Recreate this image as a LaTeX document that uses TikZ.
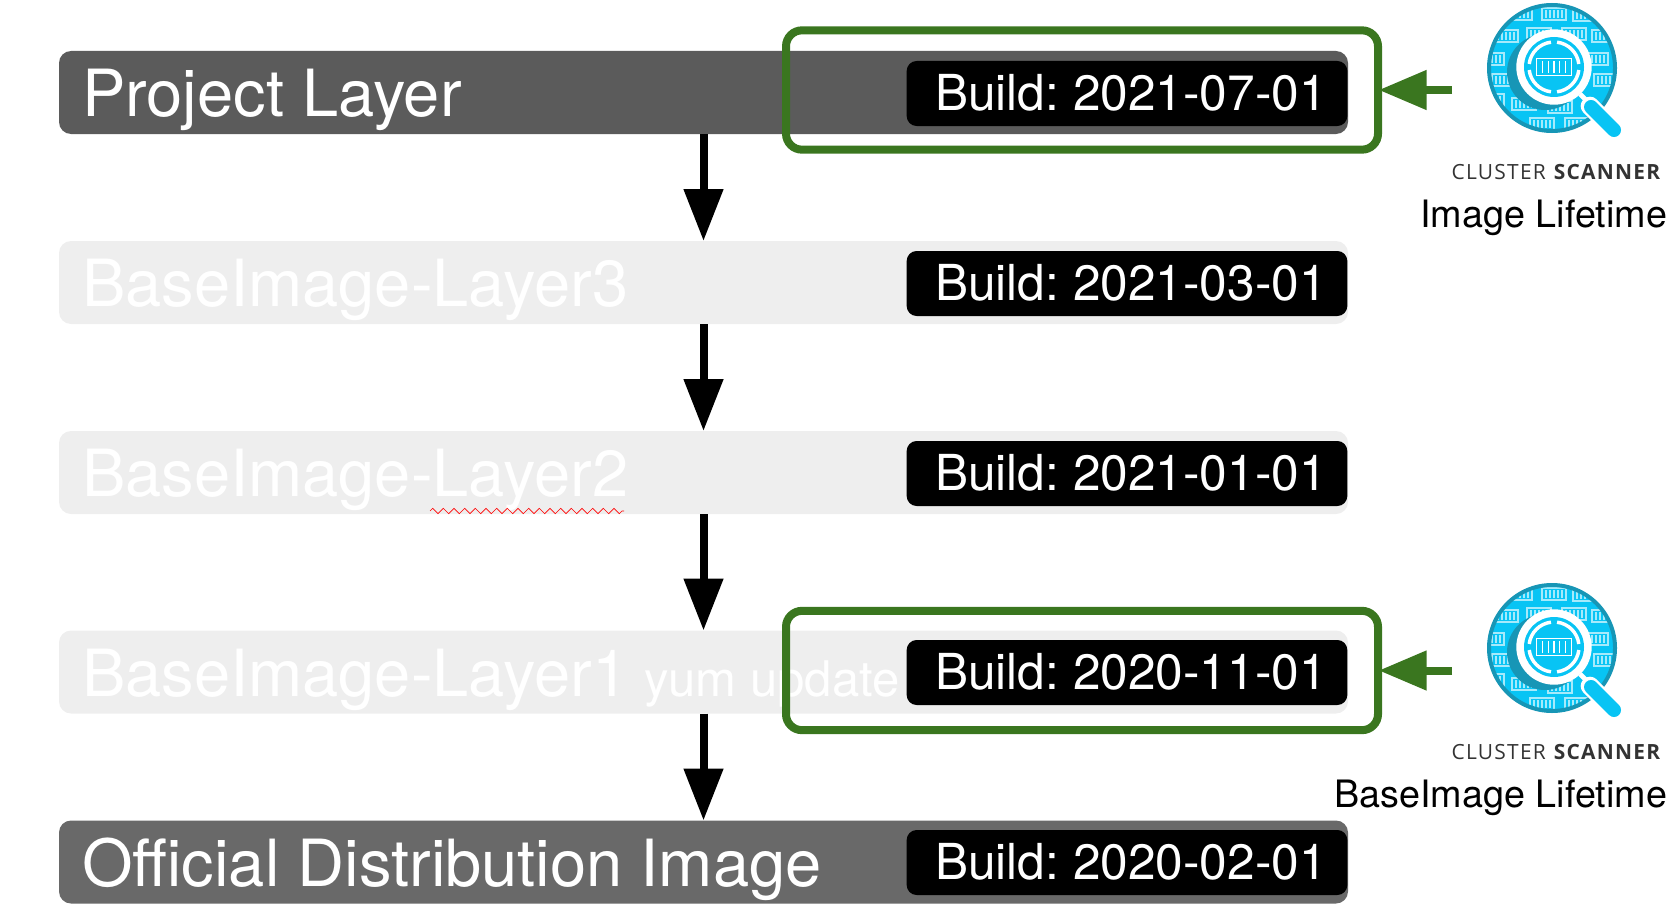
\documentclass[tikz,border=0pt]{standalone}
\usepackage{fontspec}
\setmainfont{TeX Gyre Heros}
\newfontfamily\scannerfont[LetterSpace=6]{Open Sans}
\usetikzlibrary{arrows.meta,decorations.pathmorphing}
\frenchspacing

\definecolor{barDark}{HTML}{5B5B5B}
\definecolor{barOfficial}{HTML}{696969}
\definecolor{barPale}{HTML}{EEEEEE}
\definecolor{lifeGreen}{HTML}{3A761F}
\definecolor{iconCyan}{HTML}{08C4F4}
\definecolor{iconRing}{HTML}{1796B6}
\definecolor{iconCrate}{HTML}{A6EAFB}

\tikzset{every picture/.style={line width=0.75pt}}
\tikzset{
  layerbar/.style={rectangle,rounded corners=9pt,minimum width=966.75pt,minimum height=62.25pt,inner sep=0pt,outer sep=0pt},
  buildbox/.style={rectangle,rounded corners=7.5pt,fill=black,text=white,minimum width=330.5pt,minimum height=48.75pt,inner sep=0pt,text depth=1.5pt,execute at begin node={\hspace*{6pt}},font=\fontsize{37.2}{40}\selectfont},
  lifebox/.style={rectangle,draw=lifeGreen,line width=6pt,rounded corners=12pt,minimum width=444pt,minimum height=89.5pt,inner sep=0pt},
  barlabel/.style={anchor=base west,inner sep=0pt,text=white,font=\fontsize{48.8}{50}\selectfont},
  downarrow/.style={line width=6pt,-{Triangle[length=39pt,width=28.5pt]}},
  scanarrow/.style={draw=lifeGreen,line width=6pt,shorten >=-2.5pt,-{Triangle[length=36pt,width=28.5pt]}},
  lifelabel/.style={anchor=base east,inner sep=0pt,font=\fontsize{28.3}{30}\selectfont},
  scannerlabel/.style={anchor=base east,inner sep=0pt,text=black!80,font=\scannerfont\fontsize{15.7}{18}\selectfont},
  crate/.pic={
    \draw[line width=0.9pt] (-12,-6) rectangle (12,6);
    \foreach \k in {-8,-4,0,4,8}
      \draw[line width=0.9pt] (\k,-4) -- (\k,4);
  },
  scanner/.pic={
    \fill[iconCyan] (0,0) circle [radius=63];
    \begin{scope}
      \clip (0,0) circle [radius=63];
      \foreach \cx/\cy in {2/-54,-32/-54,33/-53,-46/-32,-13/-34,22/-34,52/-32,-60/-9,44/-9,-48/12,54/12,-60/32,-28/36,8/39,-10/56,25/56}
        \pic[iconCrate] at (\cx,\cy) {crate};
    \end{scope}
    \draw[iconRing,line width=3pt] (0,0) circle [radius=63];
    \fill[iconRing] (-7,4) circle [radius=38];
    % handle
    \draw[white,line width=3.5pt] (28,26) -- (40,38);
    \draw[white,line width=14pt,line cap=round] (38,38) -- (63,63);
    \draw[iconCyan,line width=10.5pt,line cap=round] (39,39) -- (62,62);
    % lens
    \begin{scope}[shift={(2,-1)}]
      \fill[white] (0,0) circle [radius=37.7];
      \fill[iconCyan] (0,0) circle [radius=30];
      \foreach \a in {0,90,180,270}
        \draw[white,line width=2.6pt] (\a+7:25) arc [start angle=\a+7,end angle=\a+83,radius=25];
      \pic[white,scale=1.45] at (0,0) {crate};
    \end{scope}
  }
}

\begin{document}
\begin{tikzpicture}[x=0.75pt,y=0.75pt,yscale=-1,xscale=1]
\useasboundingbox (0,0) rectangle (1670,917);

% Layer bars
\node [layerbar,fill=barDark] (project) at (703.5,92.5) {};
\node [layerbar,fill=barPale] (layerthree) at (703.5,282.5) {};
\node [layerbar,fill=barPale] (layertwo) at (703.5,472.5) {};
\node [layerbar,fill=barPale] (layerone) at (703.5,672) {};
\node [layerbar,fill=barOfficial] (official) at (703.5,862) {};

%Straight Lines
\draw [downarrow] (project.south) -- (layerthree.north);
\draw [downarrow] (layerthree.south) -- (layertwo.north);
\draw [downarrow] (layertwo.south) -- (layerone.north);
\draw [downarrow] (layerone.south) -- (official.north);

% Text Node
\node [barlabel] (projecttext) at (81.5,116) {Project Layer};
\node [barlabel] (threetext) at (81.5,306) {BaseImage-Layer3};
\node [barlabel] (twotext) at (81.5,496) {BaseImage-Layer2};
\node [barlabel] (onetext) at (81.5,696) {BaseImage-Layer1};
\node [barlabel,font=\fontsize{36.8}{40}\selectfont] (yumtext) at (643.5,696) {yum update};
\node [barlabel] (officialtext) at (81.5,886) {Official Distribution Image};

%Spelling mark
\draw [red,line width=0.5pt,decorate,decoration={zigzag,segment length=8,amplitude=2}] (430,511) -- (624,511);

% Build boxes
\node [buildbox] (buildproject) at (1127,93.5) {Build: 2021-07-01};
\node [buildbox] (buildthree) at (1127,283.5) {Build: 2021-03-01};
\node [buildbox] (buildtwo) at (1127,473.5) {Build: 2021-01-01};
\node [buildbox] (buildone) at (1127,672.5) {Build: 2020-11-01};
\node [buildbox] (buildofficial) at (1127,862.5) {Build: 2020-02-01};

% Green frames
\node [lifebox] (lifetop) at (1082,90) {};
\node [lifebox] (lifebottom) at (1082,670.5) {};
\coordinate (tailtop) at (1452,90);
\coordinate (tailbottom) at (1452,670.5);
\draw [scanarrow] (tailtop) -- (lifetop.east);
\draw [scanarrow] (tailbottom) -- (lifebottom.east);

% Scanner icons
\pic [yscale=-1] at (1552,68) {scanner};
\pic [yscale=-1] at (1552,648) {scanner};

% Text Node
\node [scannerlabel] (scannertop) at (1662,179) {CLUSTER \textbf{SCANNER}};
\node [lifelabel] (imagelife) at (1667.5,227) {Image Lifetime};
\node [scannerlabel] (scannerbottom) at (1662,759) {CLUSTER \textbf{SCANNER}};
\node [lifelabel] (baselife) at (1667.5,807) {BaseImage Lifetime};

\end{tikzpicture}
\end{document}
